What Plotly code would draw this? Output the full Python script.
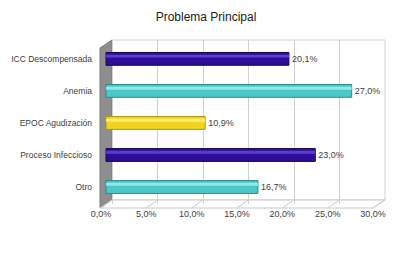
import plotly.graph_objects as go

categories = ["ICC Descompensada", "Anemia", "EPOC Agudización", "Proceso Infeccioso", "Otro"]
values = [20.1, 27.0, 10.9, 23.0, 16.7]
bar_colors = ["#2E0E99", "#4CC8C8", "#F4D320", "#2E0E99", "#4CC8C8"]
edge_colors = ["#170555", "#2A8A8A", "#B0940C", "#170555", "#2A8A8A"]
hi_colors = ["#5B3FCC", "#93E8E8", "#FFF07E", "#5B3FCC", "#93E8E8"]
tick_vals = [0, 5, 10, 15, 20, 25, 30]
tick_text = [f"{v:.1f}%".replace(".", ",") for v in tick_vals]

# page body has an 8px default margin; size the figure to fill the rest
OFF = 8
W, H = 414 - OFF, 256 - OFF
def px(x):
    return (x - OFF) / W
def py(y):
    return 1 - (y - OFF) / H

FONT = "Liberation Sans"
TXT = "#404040"

fig = go.Figure()

# main bars
fig.add_trace(go.Bar(
    y=categories, x=values, orientation="h",
    xaxis="x2", yaxis="y",
    width=0.4, offset=-0.2,
    marker=dict(color=bar_colors, line=dict(color=edge_colors, width=1)),
    text=values, texttemplate="%{x:.1f}%", textposition="outside",
    textfont=dict(family=FONT, size=9, color=TXT),
    cliponaxis=False, hoverinfo="skip", showlegend=False,
))
# highlight stripe for cylinder look
fig.add_trace(go.Bar(
    y=categories, x=values, orientation="h",
    xaxis="x2", yaxis="y",
    width=0.09, offset=0.04,
    marker=dict(color=hi_colors, line=dict(width=0)),
    hoverinfo="skip", showlegend=False,
))
# invisible traces to activate grid and label axes
fig.add_trace(go.Scatter(x=[0, 30], y=[categories[0], categories[0]], xaxis="x", yaxis="y",
                         mode="markers", marker=dict(opacity=0), hoverinfo="skip", showlegend=False))
fig.add_trace(go.Scatter(x=[0, 30], y=[categories[0], categories[0]], xaxis="x3", yaxis="y",
                         mode="markers", marker=dict(opacity=0), hoverinfo="skip", showlegend=False))

x_left, x_right = 101, 385
span = x_right - x_left

def rng(zero_px, thirty_px):
    s = (thirty_px - zero_px) / 30.0
    r0 = -(zero_px - x_left) / s
    return [r0, r0 + span / s]

shapes = []
# back wall
shapes.append(dict(type="rect", xref="paper", yref="paper",
                   x0=px(112), x1=px(385), y0=py(200), y1=py(40),
                   fillcolor="white", line=dict(color="#D0D0D0", width=1), layer="below"))
# left side wall
shapes.append(dict(type="path", xref="paper", yref="paper",
                   path=f"M {px(100)} {py(48)} L {px(112)} {py(40)} L {px(112)} {py(200)} L {px(100)} {py(208)} Z",
                   fillcolor="#8E8E8E", line=dict(color="#7A7A7A", width=1), layer="below"))
# floor
shapes.append(dict(type="path", xref="paper", yref="paper",
                   path=f"M {px(100)} {py(208)} L {px(112)} {py(200)} L {px(385)} {py(200)} L {px(373)} {py(208)} Z",
                   fillcolor="white", line=dict(color="#C8C8C8", width=1), layer="below"))
for t in tick_vals:
    fx = 101 + t * (373 - 101) / 30
    bx = 112 + t * (385 - 112) / 30
    shapes.append(dict(type="line", xref="paper", yref="paper",
                       x0=px(fx), y0=py(208), x1=px(bx), y1=py(200),
                       line=dict(color="#C8C8C8", width=1), layer="below"))

fig.update_layout(
    width=W, height=H,
    margin=dict(l=0, r=0, t=0, b=0, autoexpand=False),
    paper_bgcolor="white", plot_bgcolor="rgba(0,0,0,0)",
    separators=",.",
    barmode="overlay",
    title=dict(text="Problema Principal", x=px(206), xanchor="center", y=py(17), yanchor="middle",
               automargin=False,
               font=dict(family=FONT, size=12, color="#202020")),
    font=dict(family=FONT, size=9, color=TXT),
    xaxis=dict(domain=[px(x_left), px(x_right)], range=rng(112, 385), automargin=False,
               tickvals=tick_vals, showticklabels=False, showgrid=True,
               gridcolor="#D0D0D0", gridwidth=1, zeroline=False, showline=False, ticks=""),
    xaxis2=dict(overlaying="x", range=rng(106, 379), showticklabels=False, automargin=False,
                showgrid=False, zeroline=False, showline=False, ticks=""),
    xaxis3=dict(overlaying="x", range=rng(101, 373), tickvals=tick_vals, ticktext=tick_text,
                tickmode="array", showgrid=False, zeroline=False, automargin=False,
                showline=False, ticks="", side="bottom", anchor="y", ticklabelstandoff=3,
                tickfont=dict(family=FONT, size=9, color=TXT)),
    yaxis=dict(domain=[py(204), py(40)], categoryorder="array", automargin=False,
               categoryarray=list(reversed(categories)),
               range=[-0.53, 4.59], showgrid=False, zeroline=False, showline=False,
               ticks="", ticklabelstandoff=8,
               tickfont=dict(family=FONT, size=8.5, color=TXT)),
    shapes=shapes,
)

fig.write_html("out.html")
